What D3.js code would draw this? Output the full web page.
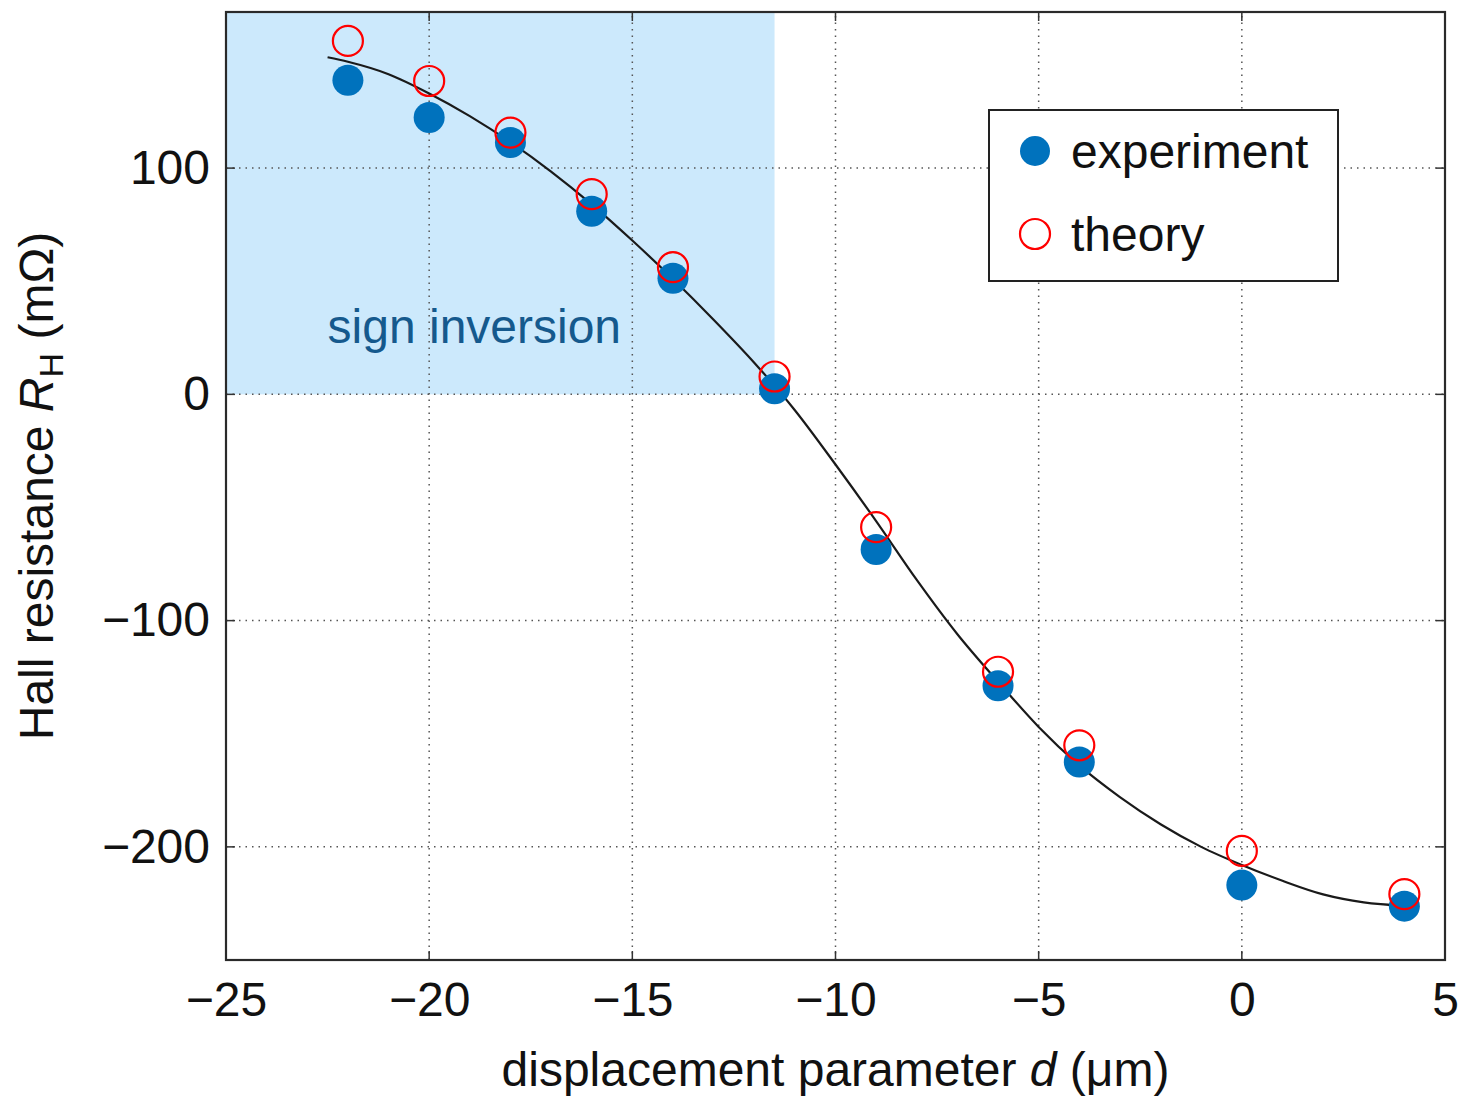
<!DOCTYPE html>
<html>
<head>
<meta charset="utf-8">
<script src="https://cdn.jsdelivr.net/npm/d3@7"></script>
<style>
  html, body { margin: 0; padding: 0; background: #fff; }
  text { font-family: "Liberation Sans", Arial, Helvetica, sans-serif; }
</style>
</head>
<body>
<div id="graph"></div>
<script>
//----------------------------------------------------------
// data

var g_displacement = [-22, -20, -18, -16, -14, -11.5, -9, -6, -4, 0, 4];
var g_experiment = [138.8, 122.4, 111.3, 80.9, 51.3, 2.5, -68.6, -128.8, -162.5, -216.9, -226.2];
var g_theory = [156.2, 138.5, 115.7, 88.5, 56.2, 7.9, -58.7, -122.6, -155.1, -201.8, -220.9];

var g_curve_x = [-22.5, -22, -21, -20, -19, -18, -17, -16, -15, -14, -13, -12, -11, -10,
                 -9, -8, -7, -6, -5, -4, -3, -2, -1, 0, 1, 2, 3, 4];
var g_curve_y = [149, 147, 141.5, 133, 123, 111.5, 98.5, 84, 68, 51, 33, 14, -7, -31,
                 -56, -82, -106, -127, -147, -164, -178, -190, -200, -208, -215, -221, -224.5, -226];

var g_x_ticks = [-25, -20, -15, -10, -5, 0, 5];
var g_y_ticks = [-200, -100, 0, 100];

var g_shade_x = [-25, -11.5];
var g_shade_y = [0, 169];

var g_legend_labels = ["experiment", "theory"];


//----------------------------------------------------------
const g_width = 1466;
const g_height = 1098;
const g_margin = { left: 226, right: 21, top: 12, bottom: 138 };

const g_blue = "#0072bd";
const g_red = "#ff0000";
const g_font_size = 48;

var g_svg = d3.select("#graph")
  .append("svg")
    .attr("width", g_width)
    .attr("height", g_height);

var g_x = d3.scaleLinear()
    .domain([-25, 5])
    .range([g_margin.left, g_width - g_margin.right]);

var g_y = d3.scaleLinear()
    .domain([-250, 169])
    .range([g_height - g_margin.bottom, g_margin.top]);


//----------------------------------------------------------
function MinusSign(v) {
    return String(v).replace("-", "\u2212");
}


function DrawBackground() {
    g_svg
      .append("rect")
        .attr("x", g_x(g_shade_x[0]))
        .attr("y", g_y(g_shade_y[1]))
        .attr("width", g_x(g_shade_x[1]) - g_x(g_shade_x[0]))
        .attr("height", g_y(g_shade_y[0]) - g_y(g_shade_y[1]))
        .attr("fill", "#cce9fc");

    g_svg
      .append("text")
        .attr("x", g_x(-22.5))
        .attr("y", g_y(22.5))
        .attr("font-size", g_font_size)
        .attr("fill", "#15598d")
        .text("sign inversion");
}


function DrawGrid() {
    const [x0, x1] = g_x.range();
    const [y0, y1] = g_y.range();

    g_svg
      .append("g")
      .selectAll("line")
      .data(g_x_ticks.slice(1, -1))
      .join("line")
        .attr("x1", function (d) { return g_x(d); })
        .attr("x2", function (d) { return g_x(d); })
        .attr("y1", y0)
        .attr("y2", y1)
        .attr("stroke", "#555")
        .attr("stroke-width", 1.5)
        .attr("stroke-dasharray", "1.5,5");

    g_svg
      .append("g")
      .selectAll("line")
      .data(g_y_ticks)
      .join("line")
        .attr("x1", x0)
        .attr("x2", x1)
        .attr("y1", function (d) { return g_y(d); })
        .attr("y2", function (d) { return g_y(d); })
        .attr("stroke", "#555")
        .attr("stroke-width", 1.5)
        .attr("stroke-dasharray", "1.5,5");
}


function DrawAxes() {
    const [x0, x1] = g_x.range();
    const [y0, y1] = g_y.range();
    const tick = 9;

    const bottom = g_svg
      .append("g")
        .attr("transform", "translate(0," + y0 + ")")
        .call(d3.axisBottom(g_x).tickValues(g_x_ticks).tickSize(0).tickPadding(22)
            .tickFormat(MinusSign));

    const left = g_svg
      .append("g")
        .attr("transform", "translate(" + x0 + ",0)")
        .call(d3.axisLeft(g_y).tickValues(g_y_ticks).tickSize(0).tickPadding(16)
            .tickFormat(MinusSign));

    [bottom, left].forEach(function (axis) {
        axis.select(".domain").remove();
        axis.selectAll("text")
            .attr("font-size", g_font_size)
            .attr("fill", "#111");
    });
    bottom.selectAll("text").attr("dy", "0.71em");

    // inward ticks on all four sides
    const marks = g_svg.append("g")
        .attr("stroke", "#333")
        .attr("stroke-width", 1.5);

    g_x_ticks.slice(1, -1).forEach(function (d) {
        marks.append("line")
            .attr("x1", g_x(d)).attr("x2", g_x(d))
            .attr("y1", y0).attr("y2", y0 - tick);
        marks.append("line")
            .attr("x1", g_x(d)).attr("x2", g_x(d))
            .attr("y1", y1).attr("y2", y1 + tick);
    });
    g_y_ticks.forEach(function (d) {
        marks.append("line")
            .attr("x1", x0).attr("x2", x0 + tick)
            .attr("y1", g_y(d)).attr("y2", g_y(d));
        marks.append("line")
            .attr("x1", x1).attr("x2", x1 - tick)
            .attr("y1", g_y(d)).attr("y2", g_y(d));
    });

    g_svg
      .append("rect")
        .attr("x", x0)
        .attr("y", y1)
        .attr("width", x1 - x0)
        .attr("height", y0 - y1)
        .attr("fill", "none")
        .attr("stroke", "#2a2a2a")
        .attr("stroke-width", 2.2);

    // axis titles
    const xtitle = g_svg
      .append("text")
        .attr("x", (x0 + x1) / 2)
        .attr("y", 1086)
        .attr("text-anchor", "middle")
        .attr("font-size", g_font_size)
        .attr("fill", "#111");
    xtitle.append("tspan").text("displacement parameter ");
    xtitle.append("tspan").attr("font-style", "italic").text("d");
    xtitle.append("tspan").text(" (\u03bcm)");

    const ytitle = g_svg
      .append("text")
        .attr("transform", "translate(53," + ((y0 + y1) / 2) + ") rotate(-90)")
        .attr("text-anchor", "middle")
        .attr("font-size", g_font_size)
        .attr("fill", "#111");
    ytitle.append("tspan").text("Hall resistance ");
    ytitle.append("tspan").attr("font-style", "italic").text("R");
    ytitle.append("tspan").attr("font-size", 34).attr("dy", 10).text("H");
    ytitle.append("tspan").attr("dy", -10).text(" (m\u03a9)");
}


function DrawData() {
    const line = d3.line()
        .x(function (d) { return g_x(d[0]); })
        .y(function (d) { return g_y(d[1]); })
        .curve(d3.curveMonotoneX);

    g_svg
      .append("path")
        .datum(d3.zip(g_curve_x, g_curve_y))
        .attr("d", line)
        .attr("fill", "none")
        .attr("stroke", "#1a1a1a")
        .attr("stroke-width", 2.2);

    g_svg
      .append("g")
      .selectAll("circle")
      .data(d3.zip(g_displacement, g_experiment))
      .join("circle")
        .attr("cx", function (d) { return g_x(d[0]); })
        .attr("cy", function (d) { return g_y(d[1]); })
        .attr("r", 15.5)
        .attr("fill", g_blue);

    g_svg
      .append("g")
      .selectAll("circle")
      .data(d3.zip(g_displacement, g_theory))
      .join("circle")
        .attr("cx", function (d) { return g_x(d[0]); })
        .attr("cy", function (d) { return g_y(d[1]); })
        .attr("r", 15)
        .attr("fill", "none")
        .attr("stroke", g_red)
        .attr("stroke-width", 2.2);
}


function DrawLegend() {
    const legend = g_svg
      .append("g")
        .attr("transform", "translate(989,110)");

    legend
      .append("rect")
        .attr("width", 349)
        .attr("height", 171)
        .attr("fill", "#fff")
        .attr("stroke", "#222")
        .attr("stroke-width", 2);

    const rows = legend
      .selectAll("g.row")
      .data(g_legend_labels)
      .join("g")
        .attr("class", "row")
        .attr("transform", function (d, i) {
            return "translate(0," + (41 + i * 83) + ")";
        });

    rows
      .append("circle")
        .attr("cx", 46)
        .attr("r", 15)
        .attr("fill", function (d, i) { return i == 0 ? g_blue : "none"; })
        .attr("stroke", function (d, i) { return i == 0 ? "none" : g_red; })
        .attr("stroke-width", 2.2);

    rows
      .append("text")
        .attr("x", 82)
        .attr("dy", "0.35em")
        .attr("font-size", g_font_size)
        .attr("fill", "#111")
        .text(function (d) { return d; });
}


//----------------------------------------------------------
DrawBackground();
DrawGrid();
DrawAxes();
DrawData();
DrawLegend();
</script>
</body>
</html>
